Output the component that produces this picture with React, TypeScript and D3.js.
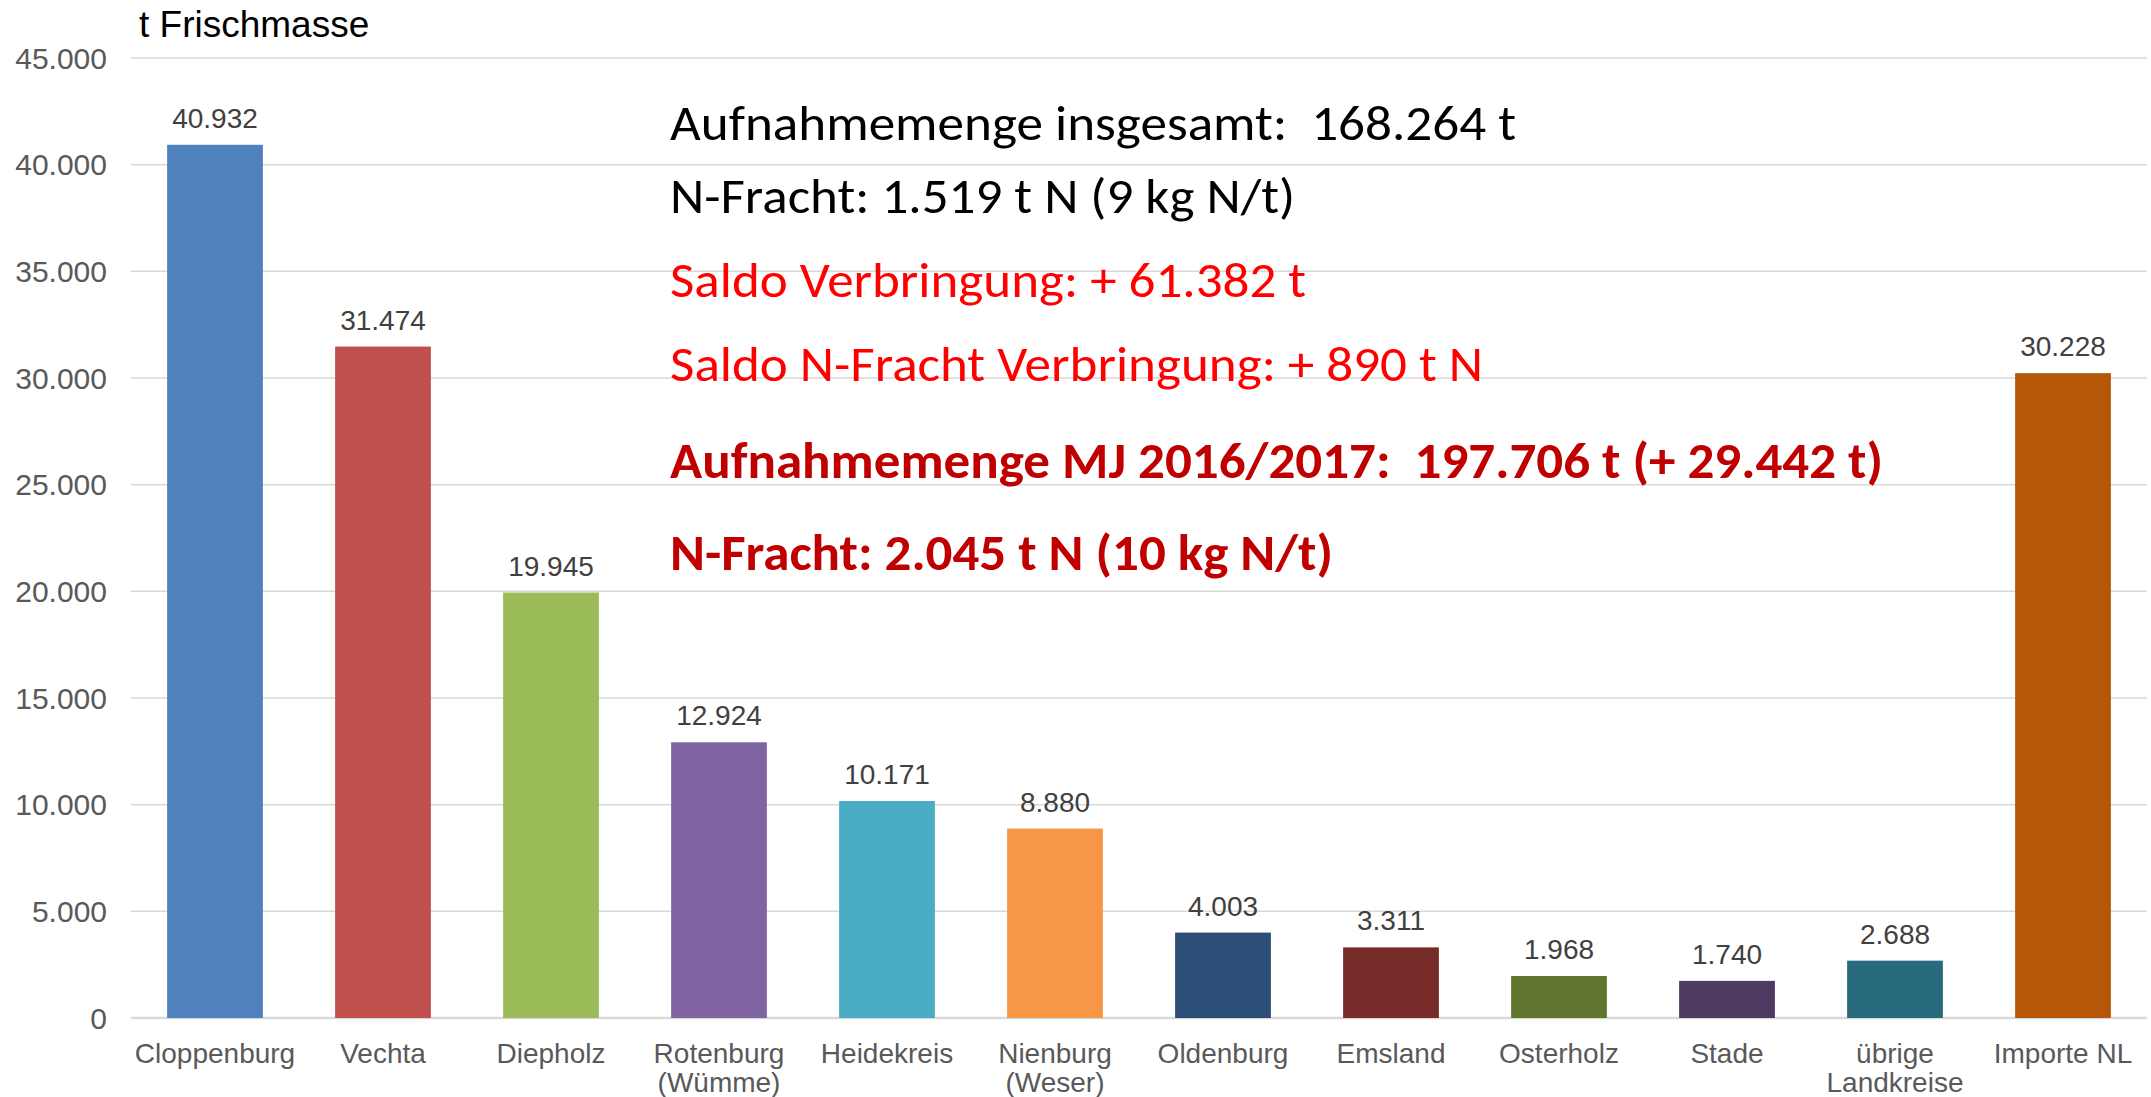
import { scaleBand, scaleLinear, formatLocale } from "d3";

const categories = [
  "Cloppenburg",
  "Vechta",
  "Diepholz",
  "Rotenburg\n(Wümme)",
  "Heidekreis",
  "Nienburg\n(Weser)",
  "Oldenburg",
  "Emsland",
  "Osterholz",
  "Stade",
  "übrige\nLandkreise",
  "Importe NL",
];

const values = [40932, 31474, 19945, 12924, 10171, 8880, 4003, 3311, 1968, 1740, 2688, 30228];

const barColors = [
  "#4F81BD", "#C0504D", "#9BBB59", "#8064A2", "#4BACC6", "#F79646",
  "#2C4D75", "#772C2A", "#5F7530", "#4D3B62", "#276A7C", "#B65708",
];

const yMax = 45000;
const yUnit = "t Frischmasse";

// Textblock rechts oben
const summaryLines = [
  "Aufnahmemenge insgesamt:  168.264 t",
  "N-Fracht: 1.519 t N (9 kg N/t)",
  "Saldo Verbringung: + 61.382 t",
  "Saldo N-Fracht Verbringung: + 890 t N",
  "Aufnahmemenge MJ 2016/2017:  197.706 t (+ 29.442 t)",
  "N-Fracht: 2.045 t N (10 kg N/t)",
];

const de = formatLocale({ decimal: ",", thousands: ".", grouping: [3], currency: ["", " €"] });
const fmt = de.format(",d");

const W = 2151;
const H = 1097;
const left = 131;
const right = 2147;
const top = 58;
const bottom = 1018;

const axisFont = "'Liberation Sans', Arial, sans-serif";
const textFont = "'Carlito', Calibri, 'Open Sans', sans-serif";

// Stil + Breite je Zeile (Calibri ist schmaler, daher textLength)
const lineStyle = [
  { y: 140, fill: "#000000", bold: false, len: 846 },
  { y: 213, fill: "#000000", bold: false, len: 625 },
  { y: 297, fill: "#FF0000", bold: false, len: 636 },
  { y: 381, fill: "#FF0000", bold: false, len: 813 },
  { y: 478, fill: "#C00000", bold: true, len: 1213 },
  { y: 570, fill: "#C00000", bold: true, len: 663 },
];

export default function App() {
  const x = scaleBand<number>()
    .domain(categories.map((_, i) => i))
    .range([left, right])
    .paddingInner(0.43)
    .paddingOuter(0.215);

  const y = scaleLinear().domain([0, yMax]).range([bottom, top]);
  const ticks = y.ticks(9);

  return (
    <svg
      width={W}
      height={H}
      style={{ position: "absolute", left: 0, top: 0, display: "block", background: "#fff" }}
    >
      {/* grid */}
      {ticks.map((t) => (
        <g key={t}>
          <line
            x1={left}
            x2={right}
            y1={y(t)}
            y2={y(t)}
            stroke="#d9d9d9"
            strokeWidth={t === 0 ? 2.5 : 1.5}
          />
          <text
            x={107}
            y={y(t)}
            dy="0.36em"
            textAnchor="end"
            fontFamily={axisFont}
            fontSize={30}
            fill="#595959"
          >
            {fmt(t)}
          </text>
        </g>
      ))}

      <text x={139} y={37} fontFamily={axisFont} fontSize={37} fill="#000">
        {yUnit}
      </text>

      {/* bars */}
      {values.map((v, i) => {
        const bx = x(i)!;
        const bw = x.bandwidth();
        return (
          <g key={i}>
            <rect x={bx} y={y(v)} width={bw} height={y(0) - y(v)} fill={barColors[i]} />
            <text
              x={bx + bw / 2}
              y={y(v) - 17}
              textAnchor="middle"
              fontFamily={axisFont}
              fontSize={28}
              fill="#404040"
            >
              {fmt(v)}
            </text>
          </g>
        );
      })}

      {/* category labels */}
      {categories.map((c, i) => (
        <text
          key={c}
          x={x(i)! + x.bandwidth() / 2}
          y={1063}
          textAnchor="middle"
          fontFamily={axisFont}
          fontSize={28}
          fill="#595959"
        >
          {c.split("\n").map((part, j) => (
            <tspan key={j} x={x(i)! + x.bandwidth() / 2} dy={j === 0 ? 0 : 29}>
              {part}
            </tspan>
          ))}
        </text>
      ))}

      {/* summary */}
      {summaryLines.map((s, i) => {
        const st = lineStyle[i];
        return (
          <text
            key={i}
            x={670}
            y={st.y}
            fontFamily={textFont}
            fontSize={50}
            fontWeight={st.bold ? 700 : 400}
            fill={st.fill}
            textLength={st.len}
            lengthAdjust="spacingAndGlyphs"
            style={{ whiteSpace: "pre" }}
          >
            {s}
          </text>
        );
      })}
    </svg>
  );
}
